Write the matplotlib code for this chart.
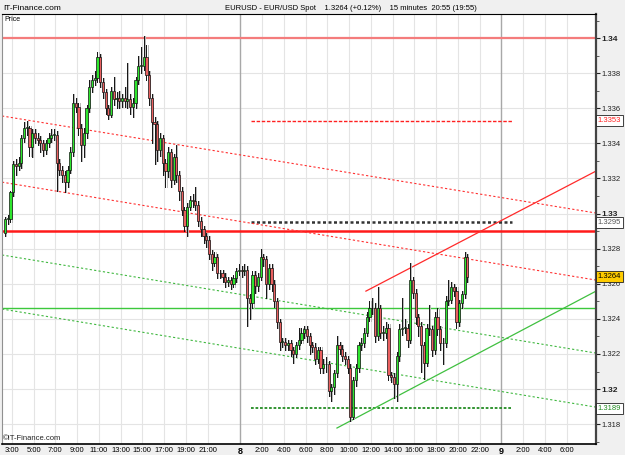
import matplotlib.pyplot as plt
from matplotlib.patches import Rectangle
import numpy as np

plt.rcParams['font.family'] = ['Liberation Sans', 'DejaVu Sans']

# EUR/USD 15 minute bars, first bar opens on the 7th at 02:15
first_open = 1.3289
closes = [1.3297, 1.3297, 1.3312, 1.3328, 1.3327, 1.3329, 1.3343, 1.3349, 1.3349, 1.3338,
          1.3346, 1.3343, 1.3342, 1.3340, 1.3336, 1.3340, 1.3343, 1.3345, 1.3345, 1.3329,
          1.3325, 1.3322, 1.3318, 1.3325, 1.3335, 1.3363, 1.3361, 1.3349, 1.3339, 1.3346,
          1.3360, 1.3372, 1.3376, 1.3377, 1.3389, 1.3375, 1.3369, 1.3360, 1.3356, 1.3370,
          1.3365, 1.3366, 1.3364, 1.3366, 1.3364, 1.3365, 1.3361, 1.3363, 1.3376, 1.3384,
          1.3384, 1.3389, 1.3379, 1.3366, 1.3352, 1.3351, 1.3336, 1.3343, 1.3329, 1.3324,
          1.3335, 1.3319, 1.3332, 1.3322, 1.3313, 1.3302, 1.3293, 1.3304, 1.3308, 1.3307,
          1.3305, 1.3296, 1.3291, 1.3287, 1.3285, 1.3277, 1.3272, 1.3275, 1.3266, 1.3266,
          1.3264, 1.3261, 1.3262, 1.3260, 1.3263, 1.3267, 1.3268, 1.3267, 1.3268, 1.3252,
          1.3249, 1.3265, 1.3259, 1.3264, 1.3275, 1.3274, 1.3260, 1.3269, 1.3260, 1.3250,
          1.3238, 1.3227, 1.3227, 1.3225, 1.3226, 1.3222, 1.3220, 1.3225, 1.3228, 1.3232,
          1.3234, 1.3230, 1.3225, 1.3224, 1.3217, 1.3222, 1.3212, 1.3214, 1.3214, 1.3199,
          1.3201, 1.3209, 1.3225, 1.3223, 1.3219, 1.3217, 1.3212, 1.3184, 1.3205, 1.3212,
          1.3225, 1.3226, 1.3232, 1.3241, 1.3246, 1.3246, 1.3230, 1.3246, 1.3232, 1.3232,
          1.3235, 1.3208, 1.3207, 1.3203, 1.3219, 1.3234, 1.3235, 1.3235, 1.3228, 1.3262,
          1.3255, 1.3241, 1.3236, 1.3225, 1.3215, 1.3235, 1.3234, 1.3222, 1.3241, 1.3234,
          1.3226, 1.3226, 1.3250, 1.3251, 1.3258, 1.3256, 1.3238, 1.3249, 1.3254, 1.3275,
          1.3264]
highs = [1.3298, 1.3299, 1.3313, 1.3330, 1.3331, 1.3332, 1.3345, 1.3352, 1.3353, 1.3350,
         1.3348, 1.3348, 1.3346, 1.3344, 1.3342, 1.3342, 1.3346, 1.3348, 1.3348, 1.3347,
         1.3331, 1.3327, 1.3324, 1.3327, 1.3338, 1.3368, 1.3366, 1.3363, 1.3351, 1.3349,
         1.3362, 1.3376, 1.3379, 1.3381, 1.3392, 1.3391, 1.3377, 1.3371, 1.3362, 1.3372,
         1.3378, 1.3369, 1.3370, 1.3368, 1.3372, 1.3386, 1.3368, 1.3366, 1.3378, 1.3390,
         1.3395, 1.3401, 1.3396, 1.3381, 1.3368, 1.3355, 1.3353, 1.3346, 1.3345, 1.3331,
         1.3338, 1.3337, 1.3334, 1.3339, 1.3324, 1.3315, 1.3304, 1.3306, 1.3310, 1.3311,
         1.3315, 1.3307, 1.3298, 1.3293, 1.3289, 1.3287, 1.3279, 1.3278, 1.3277, 1.3268,
         1.3268, 1.3266, 1.3264, 1.3264, 1.3265, 1.3269, 1.3271, 1.3270, 1.3271, 1.3270,
         1.3254, 1.3267, 1.3267, 1.3266, 1.3280, 1.3277, 1.3276, 1.3271, 1.3271, 1.3262,
         1.3252, 1.3240, 1.3229, 1.3229, 1.3228, 1.3228, 1.3224, 1.3227, 1.3235, 1.3235,
         1.3236, 1.3236, 1.3232, 1.3227, 1.3226, 1.3224, 1.3224, 1.3217, 1.3218, 1.3216,
         1.3203, 1.3211, 1.3230, 1.3227, 1.3225, 1.3221, 1.3219, 1.3214, 1.3207, 1.3214,
         1.3227, 1.3229, 1.3235, 1.3244, 1.3250, 1.3252, 1.3249, 1.3258, 1.3248, 1.3236,
         1.3238, 1.3237, 1.3210, 1.3209, 1.3221, 1.3237, 1.3252, 1.3240, 1.3237, 1.3272,
         1.3264, 1.3257, 1.3243, 1.3238, 1.3227, 1.3237, 1.3248, 1.3236, 1.3244, 1.3246,
         1.3236, 1.3229, 1.3253, 1.3262, 1.3261, 1.3260, 1.3258, 1.3251, 1.3256, 1.3278,
         1.3277]
lows = [1.3287, 1.3294, 1.3295, 1.3310, 1.3322, 1.3325, 1.3326, 1.3341, 1.3345, 1.3333,
        1.3332, 1.3340, 1.3339, 1.3335, 1.3333, 1.3334, 1.3338, 1.3341, 1.3342, 1.3313,
        1.3322, 1.3318, 1.3312, 1.3315, 1.3323, 1.3333, 1.3358, 1.3345, 1.3330, 1.3332,
        1.3343, 1.3358, 1.3369, 1.3373, 1.3375, 1.3372, 1.3366, 1.3357, 1.3354, 1.3355,
        1.3362, 1.3360, 1.3360, 1.3361, 1.3361, 1.3360, 1.3357, 1.3355, 1.3360, 1.3374,
        1.3380, 1.3382, 1.3376, 1.3362, 1.3340, 1.3328, 1.3330, 1.3333, 1.3322, 1.3315,
        1.3321, 1.3315, 1.3317, 1.3318, 1.3308, 1.3299, 1.3290, 1.3287, 1.3302, 1.3304,
        1.3302, 1.3293, 1.3287, 1.3283, 1.3281, 1.3274, 1.3268, 1.3270, 1.3263, 1.3263,
        1.3261, 1.3258, 1.3259, 1.3257, 1.3258, 1.3261, 1.3265, 1.3264, 1.3265, 1.3236,
        1.3240, 1.3246, 1.3255, 1.3256, 1.3262, 1.3270, 1.3252, 1.3257, 1.3256, 1.3247,
        1.3235, 1.3222, 1.3224, 1.3222, 1.3222, 1.3219, 1.3215, 1.3218, 1.3223, 1.3226,
        1.3229, 1.3227, 1.3220, 1.3221, 1.3214, 1.3215, 1.3209, 1.3209, 1.3210, 1.3196,
        1.3193, 1.3197, 1.3207, 1.3220, 1.3216, 1.3214, 1.3209, 1.3182, 1.3183, 1.3202,
        1.3210, 1.3222, 1.3224, 1.3230, 1.3239, 1.3243, 1.3227, 1.3228, 1.3229, 1.3228,
        1.3229, 1.3205, 1.3204, 1.3195, 1.3193, 1.3216, 1.3231, 1.3232, 1.3224, 1.3226,
        1.3252, 1.3237, 1.3230, 1.3210, 1.3206, 1.3213, 1.3231, 1.3219, 1.3220, 1.3231,
        1.3222, 1.3214, 1.3224, 1.3248, 1.3249, 1.3253, 1.3235, 1.3236, 1.3246, 1.3252,
        1.3261]
opens = [first_open] + closes[:-1]

bar_start = 2.25   # hours after midnight of the 7th
bar_len = 0.25

# horizontal levels
level_top = 1.3400
level_red = 1.3290
level_green = 1.3246

# marked levels, drawn from 8th 01:00 to 9th 01:00
mark_span = [25.0, 49.0]
mark_red = 1.3353
mark_black = 1.3295
mark_green = 1.3189

# sloping lines: hour start, price start, hour end, price end
chan_red_top = [2.1, 1.33556, 56.7, 1.33003]
chan_red_low = [2.1, 1.33179, 56.7, 1.32621]
chan_green_top = [2.1, 1.32764, 56.7, 1.32205]
chan_green_low = [2.1, 1.32456, 56.7, 1.31897]
trend_red = [35.55, 1.32558, 56.7, 1.33242]
trend_green = [32.89, 1.31778, 56.7, 1.32558]

last_price = 1.3264

# x axis labels (hours after midnight of the 7th)
tick_hours = [3, 5, 7, 9, 11, 13, 15, 17, 19, 21, 24, 26, 28, 30, 32, 34, 36, 38, 40, 42, 44, 46,
              48, 50, 52, 54]
tick_names = ['3:00', '5:00', '7:00', '9:00', '11:00', '13:00', '15:00', '17:00', '19:00', '21:00',
              '8', '2:00', '4:00', '6:00', '8:00', '10:00', '12:00', '14:00', '16:00', '18:00',
              '20:00', '22:00', '9', '2:00', '4:00', '6:00']
day_hours = [24, 48]

fig = plt.figure(figsize=(6.25, 4.55), dpi=100, facecolor='#f0f0f0')
ax = fig.add_axes([0.0032, 0.0242, 0.9504, 0.945])
ax.set_facecolor('white')
ax.set_xlim(2.1, 56.7)
ax.set_ylim(1.31687, 1.34137)

# grid
for p in np.arange(1.318, 1.3401, 0.002):
    ax.axhline(p, color='#e4e4e4', lw=0.8, zorder=0)
for h in tick_hours:
    if h in day_hours:
        ax.axvline(h, color='#a8a8a8', lw=1.0, zorder=0)
    else:
        ax.axvline(h, color='#e4e4e4', lw=0.8, zorder=0)

# levels
ax.axhline(level_top, color='#f47c7c', lw=1.6, zorder=2)
ax.axhline(level_red, color='#ff1a1a', lw=1.8, zorder=2)
ax.axhline(level_green, color='#3cc83c', lw=1.0, zorder=2)
ax.plot(mark_span, [mark_red] * 2, color='#ff2020', lw=1.0, ls=(0, (2.5, 1.2)), zorder=2)
ax.plot(mark_span, [mark_black] * 2, color='#333333', lw=1.8, ls=(0, (1.2, 1.0)), zorder=2)
ax.plot(mark_span, [mark_green] * 2, color='#228b22', lw=1.3, ls=(0, (1.5, 1.0)), zorder=2)

for ln, col in [(chan_red_top, '#ff3030'), (chan_red_low, '#ff3030'),
                (chan_green_top, '#40b840'), (chan_green_low, '#40b840')]:
    ax.plot([ln[0], ln[2]], [ln[1], ln[3]], color=col, lw=0.8, ls=(0, (2, 2)), zorder=2)
ax.plot([trend_red[0], trend_red[2]], [trend_red[1], trend_red[3]], color='#ff2a2a', lw=0.9, zorder=2)
ax.plot([trend_green[0], trend_green[2]], [trend_green[1], trend_green[3]], color='#40c040', lw=0.9, zorder=2)

# candles
w = 0.2
for i in range(len(closes)):
    t = bar_start + bar_len * i + bar_len / 2
    o, h, l, c = opens[i], highs[i], lows[i], closes[i]
    ax.plot([t + 0.1, t + 0.1], [l, h], color='#b8b8b8', lw=0.7, zorder=3)
    ax.plot([t, t], [l, h], color='#111111', lw=0.7, zorder=4)
    face = '#2ee62e' if c >= o else '#ea6060'
    ax.add_patch(Rectangle((t - w / 2, min(o, c)), w, max(abs(c - o), 0.00004),
                           facecolor=face, edgecolor='#111111', lw=0.5, zorder=5))

# axes styling
for s in ['left', 'top', 'bottom', 'right']:
    ax.spines[s].set_color('black')
ax.spines['left'].set_color('#909090')
ax.spines['right'].set_color('#444444')
ax.spines['right'].set_linewidth(1.6)
ax.spines['bottom'].set_linewidth(1.2)

ax.yaxis.tick_right()
yt = np.round(np.arange(1.318, 1.3401, 0.002), 3)
ax.set_yticks(yt)
ax.set_yticklabels([('%.2f' % v) if abs(v * 100 - round(v * 100)) < 1e-6 else ('%.3f' % v) for v in yt],
                   fontsize=5.5)
for lab, v in zip(ax.get_yticklabels(), yt):
    if abs(v * 100 - round(v * 100)) < 1e-6:
        lab.set_fontweight('bold')
        lab.set_fontsize(6)
ax.set_yticks(np.arange(1.317, 1.3411, 0.001), minor=True)
ax.tick_params(axis='y', which='major', length=3, width=0.8, pad=1, colors='#222222')
ax.tick_params(axis='y', which='minor', length=2, width=0.6, colors='#444444')

ax.set_xticks(tick_hours)
ax.set_xticklabels(tick_names, fontsize=5.5)
for lab, h in zip(ax.get_xticklabels(), tick_hours):
    if h in day_hours:
        lab.set_fontweight('bold')
        lab.set_fontsize(6.5)
ax.tick_params(axis='x', length=0, pad=2)

# price boxes on the axis
boxes = [(mark_red, '#ff2020', 'white', '#222222'),
         (mark_black, '#555555', 'white', '#222222'),
         (last_price, 'black', '#ffcc00', '#222222'),
         (mark_green, '#228b22', 'white', '#222222')]
for v, tc, bg, ec in boxes:
    ax.text(1.003, v, '%.4f' % v, transform=ax.get_yaxis_transform(), fontsize=5.5, color=tc,
            va='center', ha='left', zorder=10, clip_on=False,
            bbox=dict(boxstyle='square,pad=0.25', facecolor=bg, edgecolor=ec, lw=0.6))

# texts
fig.text(0.005, 0.99, 'IT-Finance.com', fontsize=6, va='top', ha='left')
fig.text(0.36, 0.99, 'EURUSD - EUR/USD Spot    1.3264 (+0.12%)    15 minutes  20:55 (19:55)',
         fontsize=5.5, va='top', ha='left')
ax.text(0.004, 0.995, 'Price', transform=ax.transAxes, fontsize=5, va='top', ha='left')
ax.text(0.002, 0.005, '©IT-Finance.com', transform=ax.transAxes, fontsize=5.5, va='bottom', ha='left',
        color='#222222')

fig.savefig('out.png', dpi=100, facecolor=fig.get_facecolor())
